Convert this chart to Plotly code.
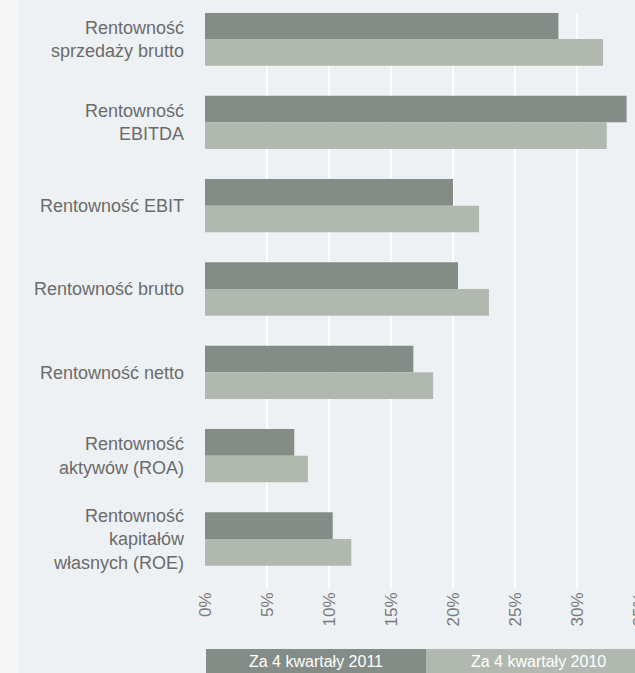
import plotly.graph_objects as go

categories = [
    "Rentowność<br>sprzedaży brutto",
    "Rentowność<br>EBITDA",
    "Rentowność EBIT",
    "Rentowność brutto",
    "Rentowność netto",
    "Rentowność<br>aktywów (ROA)",
    "Rentowność<br>kapitałów<br>własnych (ROE)",
]
series_names = ["Za 4 kwartały 2011", "Za 4 kwartały 2010"]
values_2011 = [28.5, 34.0, 20.0, 20.4, 16.8, 7.2, 10.3]
values_2010 = [32.1, 32.4, 22.1, 22.9, 18.4, 8.3, 11.8]
tick_values = [0, 5, 10, 15, 20, 25, 30, 35]
tick_labels = ["0%", "5%", "10%", "15%", "20%", "25%", "30%", "35%"]

DARK = "#838C86"
LIGHT = "#B1B8B0"
BG = "#EDF1F4"
FONT = "Liberation Sans"

W, H = 640, 673
L, R, T, B = 205, 0, 13, 85
PW, PH = W - L - R, H - T - B

fig = go.Figure()
fig.add_trace(go.Bar(y=categories, x=values_2011, orientation="h", name=series_names[0],
                     marker=dict(color=DARK, line=dict(width=0))))
fig.add_trace(go.Bar(y=categories, x=values_2010, orientation="h", name=series_names[1],
                     marker=dict(color=LIGHT, line=dict(width=0))))

fig.update_layout(
    width=W, height=H,
    margin=dict(l=L, r=R, t=T, b=B, pad=0, autoexpand=False),
    paper_bgcolor=BG, plot_bgcolor=BG,
    barmode="group", bargap=0.36, bargroupgap=0,
    showlegend=False,
    font=dict(family=FONT, color="#6b6b6b"),
    xaxis=dict(range=[0, PW / 12.4], tickvals=tick_values, ticktext=tick_labels,
               tickangle=-90, showgrid=True, gridcolor="#FFFFFF", gridwidth=1.5,
               zeroline=False, showline=False, ticks="", ticklabeloverflow="allow",
               automargin=False,
               tickfont=dict(family=FONT, size=17, color="#7a7a7a")),
    yaxis=dict(type="category", categoryorder="array", categoryarray=categories,
               range=[6.588, -0.312], showgrid=False, zeroline=False, showline=False,
               ticks="", ticklabelstandoff=20, automargin=False,
               tickfont=dict(family=FONT, size=18, color="#6b6b6b")),
    shapes=[
        dict(type="rect", xref="paper", yref="paper", x0=-L / PW, x1=(19 - L) / PW,
             y0=-B / PH, y1=1 + T / PH,
             fillcolor="#F7F7F7", line=dict(width=0), layer="below"),
        dict(type="rect", xref="paper", yref="paper", x0=1 / PW, x1=221 / PW,
             y0=-B / PH, y1=(588 - 649) / PH,
             fillcolor=DARK, line=dict(width=0)),
        dict(type="rect", xref="paper", yref="paper", x0=221 / PW, x1=441 / PW,
             y0=-B / PH, y1=(588 - 649) / PH,
             fillcolor=LIGHT, line=dict(width=0)),
    ],
    annotations=[
        dict(xref="paper", yref="paper", x=111 / PW, y=(588 - 661) / PH, text=series_names[0],
             showarrow=False, xanchor="center", yanchor="middle",
             font=dict(family=FONT, size=16, color="#FFFFFF")),
        dict(xref="paper", yref="paper", x=333 / PW, y=(588 - 661) / PH, text=series_names[1],
             showarrow=False, xanchor="center", yanchor="middle",
             font=dict(family=FONT, size=16, color="#FFFFFF")),
    ],
)

fig.write_html(
    "out.html",
    config={"displayModeBar": False},
    post_script="document.documentElement.style.margin='0';document.documentElement.style.overflow='hidden';"
                "document.body.style.margin='0';document.body.style.overflow='hidden';",
)
